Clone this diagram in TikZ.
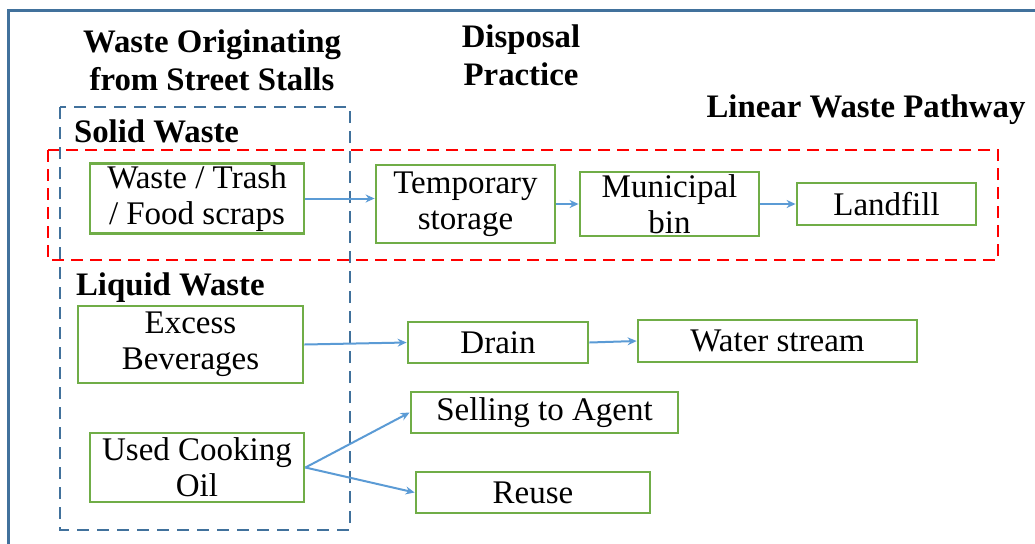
\documentclass[tikz,border=0pt]{standalone}
\usepackage{fontspec}
\setmainfont{Liberation Serif}
\usetikzlibrary{arrows.meta}

\definecolor{boxgreen}{HTML}{70AD47}
\definecolor{arrowblue}{HTML}{5B9BD5}
\definecolor{framblue}{HTML}{41719C}

\tikzset{
    stage/.style={draw=boxgreen, line width=1.4pt, align=center, inner sep=1pt,
        font=\fontsize{16.5}{18}\selectfont},
    heading/.style={align=center, font=\fontsize{16.4}{19}\selectfont\bfseries},
    flow/.style={draw=arrowblue, line width=1pt, -{Stealth[length=4.5pt, width=4pt]}},
}

\begin{document}
\begin{tikzpicture}[x=0.5pt, y=-0.5pt]
        \useasboundingbox (0, 0) rectangle (1035, 543);
        \clip (0, 0) rectangle (1035, 543);

        % outer frame, running off the page
        \draw[line width=1.5pt, color=framblue] (8, 600) -- (8, 10) -- (1100, 10);

        % column and pathway titles
        \node[heading] (origin) at (212, 60) {Waste Originating\\from Street Stalls};
        \node[heading] (practice) at (521, 55) {Disposal\\Practice};
        \node[heading] (linear) at (866, 110) {Linear Waste Pathway};

        % dashed groups
        \draw[dashed, dash pattern=on 6pt off 4pt, line width=1.2pt, color=framblue] (60, 107) rectangle (350, 530);
        \draw[dashed, dash pattern=on 6pt off 3.5pt, line width=1.3pt, color=red] (48, 150) rectangle (998, 260);

        \node[heading, anchor=west] (solid) at (67, 131) {Solid Waste};
        \node[heading, anchor=west] (liquid) at (69, 288) {Liquid Waste};

        % solid waste chain
        \node[stage, minimum width=107pt, minimum height=33.5pt] (trash) at (197, 198.5) {Waste / Trash\\/ Food scraps};
        \node[stage, minimum width=89.5pt, minimum height=39pt] (storage) at (465.5, 204) {Temporary\\storage};
        \node[stage, minimum width=89.5pt, minimum height=32pt] (bin) at (669.5, 204) {Municipal\\bin};
        \node[stage, minimum width=89.5pt, minimum height=21pt] (landfill) at (886.5, 204) {Landfill};

        % liquid waste
        \node[stage, minimum width=112.5pt, minimum height=38.5pt] (drinks) at (190.5, 344.5) {Excess\\Beverages};
        \node[stage, minimum width=90pt, minimum height=20.5pt] (drain) at (498, 342.5) {Drain};
        \node[stage, minimum width=139.5pt, minimum height=21pt] (stream) at (777.5, 341) {Water stream};
        \node[stage, minimum width=107pt, minimum height=34.5pt] (oil) at (197, 467.5) {Used Cooking\\Oil};
        \node[stage, minimum width=133.5pt, minimum height=20.5pt] (agent) at (544.5, 412.5) {Selling to Agent};
        \node[stage, minimum width=117pt, minimum height=20.5pt] (reuse) at (533, 492.5) {Reuse};

        % arrows between stages
        \draw[flow] (trash.east) -- (trash.east -| storage.west);
        \draw[flow] (storage.east) -- (bin.west);
        \draw[flow] (bin.east) -- (landfill.west);
        \draw[flow] (drinks.east) -- (drain.west);
        \draw[flow] (drain.east) -- (stream.west);
        \draw[flow] (oil.east) -- (agent.west);
        \draw[flow] (oil.east) -- (reuse.west);
    \end{tikzpicture}
\end{document}
